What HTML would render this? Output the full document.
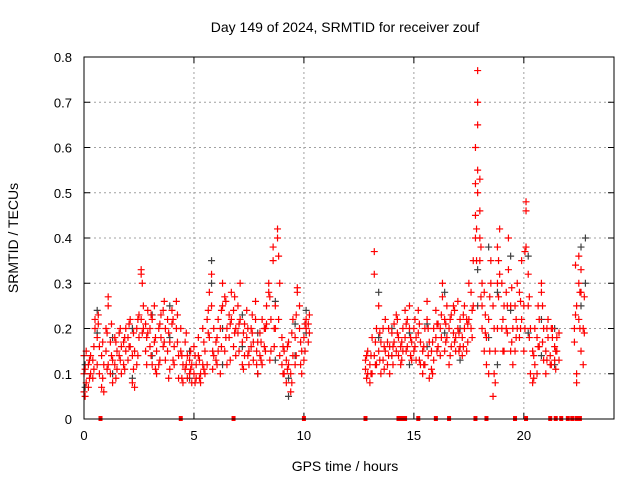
<!DOCTYPE html>
<html><head><meta charset="utf-8"><style>
body{margin:0;background:#fff}
svg{display:block;font-family:"Liberation Sans",sans-serif}
</style></head><body>
<svg id="chart" width="640" height="480" viewBox="0 0 640 480">
<rect width="640" height="480" fill="#fff"/>
<text x="345" y="32" font-size="14" text-anchor="middle">Day 149 of 2024, SRMTID for receiver zouf</text>
<text transform="translate(18,238) rotate(-90)" font-size="14" text-anchor="middle">SRMTID / TECUs</text>
<text x="345" y="471" font-size="14" text-anchor="middle">GPS time / hours</text>
<g id="grid"></g>
<g id="ticks"></g>
<g id="gray"></g>
<g id="red"></g>
<rect x="84" y="57" width="530" height="362" fill="none" stroke="#000" stroke-width="1"/>
</svg>
<script>
const xTicks=[0,5,10,15,20];
const yTicks=[0,0.1,0.2,0.3,0.4,0.5,0.6,0.7,0.8];
const yTickLabels=["0","0.1","0.2","0.3","0.4","0.5","0.6","0.7","0.8"];
const redTimes=[0,0.1,0.2,0.3,0.4,0.5,0.6,0.7,0.8,0.9,1,1.1,1.2,1.3,1.4,1.5,1.6,1.7,1.8,1.9,2,2.1,2.2,2.3,2.4,2.5,2.6,2.7,2.8,2.9,3,3.1,3.2,3.3,3.4,3.5,3.6,3.7,3.8,3.9,4,4.1,4.2,4.3,4.4,4.5,4.6,4.7,4.8,4.9,5,5.1,5.2,5.3,5.4,5.5,5.6,5.7,5.8,5.9,6,6.1,6.2,6.3,6.4,6.5,6.6,6.7,6.8,6.9,7,7.1,7.2,7.3,7.4,7.5,7.6,7.7,7.8,7.9,8,8.1,8.2,8.3,8.4,8.5,8.6,8.7,8.8,8.9,9,9.1,9.2,9.3,9.4,9.5,9.6,9.7,9.8,9.9,10,10.1,10.2,
12.8,12.9,13,13.1,13.2,13.3,13.4,13.5,13.6,13.7,13.8,13.9,14,14.1,14.2,14.3,14.4,14.5,14.6,14.7,14.8,14.9,15,15.1,15.2,15.3,15.4,15.5,15.6,15.7,15.8,15.9,16,16.1,16.2,16.3,16.4,16.5,16.6,16.7,16.8,16.9,17,17.1,17.2,17.3,17.4,17.5,17.6,17.7,17.8,17.9,18,18.1,18.2,18.3,18.4,18.5,18.6,18.7,18.8,18.9,19,19.1,19.2,19.3,19.4,19.5,19.6,19.7,19.8,19.9,20,20.1,20.2,20.3,20.4,20.5,20.6,20.7,20.8,20.9,21,21.1,21.2,21.3,21.4,21.5,22.3,22.4,22.5,22.6,22.7];
const redValues=[[0.06,0.1,0.14],[0.08,0.15],[0.07,0.12],[0.1,0.14],[0.09,0.13],[0.2,0.22],[0.18,0.12],[0.1,0.16],[0.07,0.14],[0.06,0.12],[0.15,0.2],[0.25,0.27,0.12],[0.1,0.17],[0.08,0.13],[0.12,0.18],[0.15,0.11],[0.14,0.19],[0.1,0.16],[0.17,0.12],[0.15,0.2],[0.13,0.18],[0.16,0.22],[0.08,0.14],[0.07,0.15],[0.12,0.2],[0.18,0.23],[0.33,0.32,0.22],[0.2,0.25],[0.15,0.21],[0.19,0.24],[0.2,0.16],[0.22,0.12],[0.17,0.25],[0.1,0.15],[0.12,0.2],[0.18,0.23],[0.24,0.16],[0.2,0.13],[0.15,0.22],[0.17,0.11],[0.21,0.24],[0.16,0.12],[0.2,0.26],[0.14,0.09],[0.15,0.2],[0.12,0.08],[0.11,0.17],[0.09,0.14],[0.13,0.1],[0.08,0.12],[0.1,0.16],[0.12,0.09],[0.14,0.18],[0.1,0.08],[0.12,0.2],[0.15,0.1],[0.22,0.12],[0.28,0.18],[0.32,0.25],[0.2,0.14],[0.13,0.17],[0.15,0.22],[0.2,0.1],[0.3,0.25],[0.27,0.15],[0.2,0.12],[0.18,0.23],[0.22,0.28],[0.24,0.16],[0.2,0.14],[0.19,0.25],[0.3,0.22],[0.17,0.12],[0.14,0.21],[0.18,0.24],[0.12,0.15],[0.16,0.2],[0.13,0.17],[0.22,0.26],[0.17,0.1],[0.14,0.19],[0.12,0.22],[0.16,0.2],[0.21,0.25],[0.3,0.28],[0.22,0.15],[0.35,0.38],[0.25,0.2],[0.42,0.4],[0.3,0.14],[0.18,0.12],[0.15,0.1],[0.08,0.13],[0.12,0.17],[0.1,0.06],[0.14,0.22],[0.18,0.12],[0.28,0.29],[0.25,0.2],[0.15,0.1],[0.18,0.13],[0.2,0.22],[0.21,0.17],
[0.11,0.13],[0.1,0.15],[0.12,0.08],[0.18,0.1],[0.37,0.32,0.14],[0.12,0.2],[0.15,0.25],[0.17,0.1],[0.2,0.13],[0.15,0.22],[0.12,0.17],[0.16,0.1],[0.19,0.14],[0.17,0.21],[0.23,0.15],[0.14,0.18],[0.12,0.16],[0.2,0.15],[0.18,0.24],[0.22,0.16],[0.25,0.2],[0.17,0.13],[0.15,0.2],[0.13,0.18],[0.19,0.24],[0.17,0.12],[0.1,0.15],[0.12,0.2],[0.22,0.26],[0.17,0.09],[0.15,0.11],[0.2,0.13],[0.24,0.18],[0.16,0.21],[0.14,0.2],[0.27,0.3],[0.22,0.15],[0.18,0.25],[0.2,0.12],[0.16,0.23],[0.25,0.19],[0.18,0.15],[0.2,0.26],[0.22,0.16],[0.18,0.14],[0.2,0.25],[0.15,0.22],[0.22,0.3],[0.28,0.2],[0.35,0.25],[0.45,0.52,0.6,0.4],[0.77,0.7,0.65,0.55,0.5],[0.53,0.46,0.4,0.35],[0.3,0.25,0.2],[0.28,0.15],[0.18,0.12],[0.22,0.1],[0.35,0.3],[0.25,0.05],[0.15,0.08],[0.38,0.3,0.2],[0.42,0.32],[0.3,0.2],[0.25,0.15],[0.2,0.28],[0.33,0.4],[0.25,0.15],[0.2,0.12],[0.15,0.25],[0.2,0.3],[0.28,0.18],[0.35,0.22],[0.25,0.15],[0.48,0.46,0.38],[0.32,0.25],[0.2,0.1],[0.15,0.08],[0.12,0.2],[0.1,0.18],[0.22,0.16],[0.28,0.3],[0.2,0.13],[0.15,0.1],[0.18,0.22],[0.14,0.12],[0.2,0.18],[0.16,0.13],[0.15,0.18],[0.2,0.17],[0.25,0.1,0.08],[0.36,0.3,0.22],[0.33,0.28,0.15],[0.2,0.12]];
const redTimesB=[0.05,0.25,0.45,0.65,0.85,1.05,1.25,1.45,1.65,1.85,2.05,2.25,2.45,2.65,2.85,3.05,3.25,3.45,3.65,3.85,4.05,4.25,4.45,4.65,4.85,5.05,5.25,5.45,5.65,5.85,6.05,6.25,6.45,6.65,6.85,7.05,7.25,7.45,7.65,7.85,8.05,8.25,8.45,8.65,8.85,9.05,9.25,9.45,9.65,9.85,10.05,10.25,
12.85,13.05,13.25,13.45,13.65,13.85,14.05,14.25,14.45,14.65,14.85,15.05,15.25,15.45,15.65,15.85,16.05,16.25,16.45,16.65,16.85,17.05,17.25,17.45,17.65,17.85,18.05,18.25,18.45,18.65,18.85,19.05,19.25,19.45,19.65,19.85,20.05,20.25,20.45,20.65,20.85,21.05,21.25,21.45,21.6,22.35,22.55,22.75];
const redValuesB=[[0.11,0.05],[0.13,0.09],[0.16,0.11],[0.23,0.21],[0.09,0.17],[0.11,0.19],[0.14,0.21],[0.17,0.09],[0.2,0.13],[0.18,0.11],[0.16,0.21],[0.11,0.19],[0.14,0.22],[0.3,0.19],[0.12,0.18],[0.23,0.14],[0.18,0.11],[0.21,0.13],[0.17,0.26],[0.09,0.19],[0.13,0.22],[0.17,0.23],[0.09,0.14],[0.12,0.19],[0.11,0.15],[0.14,0.08],[0.09,0.13],[0.11,0.17],[0.24,0.19],[0.15,0.11],[0.18,0.12],[0.24,0.16],[0.18,0.26],[0.21,0.13],[0.19,0.27],[0.15,0.21],[0.19,0.11],[0.2,0.14],[0.19,0.23],[0.15,0.12],[0.17,0.13],[0.2,0.15],[0.27,0.13],[0.2,0.16],[0.36,0.22],[0.16,0.1],[0.11,0.16],[0.08,0.19],[0.23,0.14],[0.12,0.17],[0.21,0.15],[0.19,0.23],
[0.09,0.14],[0.14,0.1],[0.17,0.12],[0.13,0.19],[0.16,0.11],[0.2,0.14],[0.12,0.16],[0.19,0.22],[0.17,0.13],[0.21,0.15],[0.14,0.18],[0.22,0.16],[0.21,0.13],[0.16,0.12],[0.2,0.14],[0.1,0.17],[0.21,0.15],[0.23,0.18],[0.17,0.21],[0.22,0.14],[0.17,0.24],[0.19,0.15],[0.23,0.16],[0.17,0.21],[0.24,0.18],[0.42,0.35],[0.38,0.27],[0.19,0.23],[0.27,0.15],[0.1,0.2],[0.27,0.35],[0.22,0.15],[0.25,0.19],[0.29,0.17],[0.18,0.22],[0.26,0.2],[0.37,0.2],[0.18,0.27],[0.14,0.09],[0.16,0.25],[0.25,0.17],[0.2,0.13],[0.12,0.2],[0.15,0.11],[0.19,0.13],[0.34,0.23],[0.2,0.28],[0.27,0.19]];
const grayTimes=[0.05,0.6,1.3,2.2,3.1,3.9,4.8,5.8,6.3,7.2,7.9,8.7,9.3,9.6,10.1,13.4,14.0,14.8,15.6,16.4,17.1,17.9,18.4,18.8,19.4,20.2,20.8,21.4,22.6,22.8];
const grayValues=[[0.07,0.12],[0.24,0.19],[0.18,0.1],[0.2,0.09],[0.23,0.14],[0.18,0.25],[0.09,0.15],[0.35,0.3],[0.12,0.2],[0.23,0.16],[0.19,0.1],[0.26,0.13],[0.05,0.09],[0.21,0.14],[0.19,0.24],[0.28,0.18],[0.2,0.14],[0.19,0.12],[0.16,0.21],[0.28,0.19],[0.2,0.13],[0.25,0.33],[0.38,0.18],[0.28,0.12],[0.24,0.36],[0.36,0.19],[0.22,0.14],[0.2,0.12],[0.38,0.25],[0.4,0.3]];
const zeroTimes=[0.75,4.4,6.8,10,12.8,14.3,14.45,14.6,15.2,16,16.6,17.8,18.3,19.6,20.1,21.2,21.45,21.7,22.0,22.2,22.4,22.55];

const NS="http://www.w3.org/2000/svg";
const X0=84,X1=614,Y0=419,Y1=57,XMAX=24.1,YMAX=0.8;
function xs(t){return X0+(t/XMAX)*(X1-X0);}
function ys(v){return Y0-(v/YMAX)*(Y0-Y1);}
function mk(tag,attrs,parent){const e=document.createElementNS(NS,tag);for(const k in attrs)e.setAttribute(k,attrs[k]);parent.appendChild(e);return e;}
const grid=document.getElementById('grid'),ticks=document.getElementById('ticks');
xTicks.forEach((t,i)=>{
  const x=xs(t);
  if(t>0){const g=mk('line',{x1:x,x2:x,y1:Y1,y2:Y0,stroke:'#a0a0a0','stroke-dasharray':'2,3'},grid);
  
  }
  mk('line',{x1:x,x2:x,y1:Y0,y2:Y0-6,stroke:'#000'},ticks);
  mk('line',{x1:x,x2:x,y1:Y1,y2:Y1+6,stroke:'#000'},ticks);
  const l=mk('text',{x:x,y:Y0+21,'font-size':'13','text-anchor':'middle'},ticks);
  l.textContent=String(t);
  
  
});
yTicks.forEach((v,i)=>{
  const y=ys(v);
  if(v>0&&v<YMAX){const g=mk('line',{x1:X0,x2:X1,y1:y,y2:y,stroke:'#a0a0a0','stroke-dasharray':'2,3'},grid);
  
  }
  mk('line',{x1:X0,x2:X0+6,y1:y,y2:y,stroke:'#000'},ticks);
  mk('line',{x1:X1,x2:X1-6,y1:y,y2:y,stroke:'#000'},ticks);
  const l=mk('text',{x:X0-12,y:y+5,'font-size':'13','text-anchor':'end'},ticks);
  l.textContent=yTickLabels[i];
  
  
});
function plus(parent,t,v,color,name){
  const x=xs(t),y=ys(v);
  const p=mk('path',{d:`M${x-3.5},${y}H${x+3.5}M${x},${y-3.5}V${y+3.5}`,stroke:color,'stroke-width':'1.2',fill:'none'},parent);
  
  
}
const gray=document.getElementById('gray'),red=document.getElementById('red');
grayTimes.forEach((t,i)=>grayValues[i].forEach(v=>plus(gray,t,v,'#404040','gray-point')));
redTimes.forEach((t,i)=>redValues[i].forEach(v=>plus(red,t,v,'#ff0000','red-point')));
redTimesB.forEach((t,i)=>redValuesB[i].forEach(v=>plus(red,t,v,'#ff0000','red-point')));
zeroTimes.forEach(t=>{
  const r=mk('rect',{x:xs(t)-2,y:Y0-3,width:4,height:5,fill:'#ff0000'},red);
  
  
});
</script>
</body></html>
